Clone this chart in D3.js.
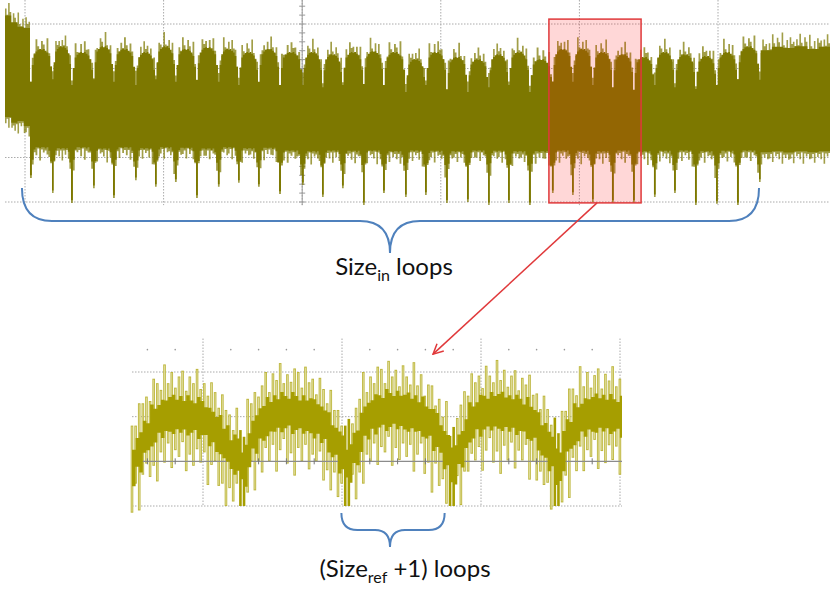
<!DOCTYPE html>
<html>
<head>
<meta charset="utf-8">
<script src="https://cdn.jsdelivr.net/npm/d3@7"></script>
<style>
  body { margin: 0; background: #fff; }
  svg { display: block; }
</style>
</head>
<body>
<svg id="chart"></svg>
<script>
// ---------- long capture (top) : time in ms, amplitude in divisions ----------
const topGridTimes = [0, 10, 20, 30, 40, 50];
const topGridLevels = [0, 1, 2, 3, 4];
const topDipTimes = [0.36, 1.95, 3.32, 4.91, 6.35, 7.94, 9.38, 10.82, 12.34, 13.92, 15.37, 16.81,
  18.33, 19.99, 21.43, 22.87, 24.39, 25.83, 27.42, 28.86, 30.38, 31.89, 33.41, 34.85,
  36.36, 38.02, 39.47, 40.91, 42.35, 43.87, 45.38, 46.83, 48.34, 49.86, 51.37, 52.96];
const topDipDepth = [0.54, 0.20, -0.02, 0.31, 0.09, 0.49, 0.34, 0.45, 0.09, 0.34, 0.43, 0.34,
  0.18, 0.38, 0.11, 0.31, -0.07, 0.20, 0.11, 0.16, -0.02, 0.00, -0.07, -0.02,
  -0.07, 0.20, 0.16, 0.00, -0.02, -0.02, 0.11, 0.20, -0.07, -0.04, -0.07, 0.45];
const topLoopHigh = [3.42, 3.48, 3.35, 3.48, 3.42, 3.35, 3.48, 3.42, 3.46, 3.42, 3.35, 3.42,
  3.35, 3.35, 3.30, 3.35, 3.37, 3.35, 3.19, 3.35, 3.24, 3.19, 3.30, 3.35,
  3.19, 3.42, 3.42, 3.35, 3.30, 3.24, 3.35, 3.30, 3.26, 3.35, 3.48];
const topLoopLow = [1.17, 1.15, 1.17, 1.14, 1.17, 1.15, 1.17, 1.16, 1.14, 1.17, 1.15, 1.16,
  1.10, 1.08, 1.10, 1.09, 1.10, 1.08, 1.10, 1.09, 1.08, 1.10, 1.09, 1.08,
  1.08, 1.10, 1.09, 1.08, 1.10, 1.08, 1.09, 1.10, 1.08, 1.09, 1.10];
const topLeadHigh = [4.25, 4.10, 4.00, 3.97];
const topLeadLow = [1.85, 1.72, 1.76, 1.65];
const topTailHigh = [3.47, 3.55, 3.52, 3.56, 3.50, 3.55];
const topTailLow = [1.06, 1.08, 1.05, 1.08, 1.06, 1.08];
const topShapeHigh = [-0.66, -0.28, -0.04, 0.02, 0.06, 0.08, 0.06, 0.08, 0.04, 0.00, -0.08, -0.32];
const topShapeLow = [0, -0.28, -0.05, 0.00, 0.00, -0.02, 0.00, 0.00, -0.03, 0.00, -0.08, -0.32];
const topSpikeHigh = [0.10, -0.04, 0.22, 0.02, -0.08, 0.14, 0.04, -0.10, 0.26, 0.00, -0.05, 0.12, -0.12, 0.18, 0.03, 0.08, -0.06];
const topSpikeLow = [-0.08, 0.02, -0.18, 0.04, -0.05, 0.00, -0.12, 0.03, -0.22, 0.01, -0.06, 0.02, -0.10];
const focusWindow = [37.8, 44.45];
const focusLevels = [-0.02, 4.11];

// ---------- zoomed capture (bottom) : time and amplitude in divisions ----------
const zoomGridTimes = [1, 2, 3, 4];
const zoomGridLevels = [-1, 1, 2];
const zoomDipTimes = [0.46, 1.25, 2.01, 2.76, 3.51];
const zoomLoopPeak = [1.05, 1.10, 1.15, 1.12, 1.08];
const zoomShape = [-1.20, -0.85, -0.50, -0.25, -0.10, -0.03, 0.00, 0.00, -0.02, -0.05, -0.08, -0.15, -0.28, -0.45, -0.65, -0.90];
const zoomSpikeUp = [0.95, 0.60, 1.10, 0.75, 0.90, 0.55, 1.05, 0.80, 0.65, 1.15, 0.70, 0.95, 0.60, 0.85, 1.00, 0.55, 0.90, 0.75, 1.10, 0.65, 0.85, 0.70, 1.00];
const zoomSpikeDown = [1.00, 0.70, 1.30, 0.85, 0.60, 1.15, 0.90, 1.40, 0.75, 1.05, 0.65, 1.20, 0.80, 0.95, 0.60, 1.25, 0.85, 1.10, 0.70];
const zoomCoreJitter = [0.05, -0.04, 0.09, 0.00, -0.06, 0.11, 0.02, -0.05, 0.07, -0.02, 0.03, 0.08, -0.03];

const W = 830, H = 589;
const olive = "#7d7800", bright = "#a69e00", paleEdge = "#bdb63c", paleFill = "#dedb95";
const braceBlue = "#4f81bd", red = "#e0393b";

const svg = d3.select("#chart").attr("width", W).attr("height", H);

// ====== top chart ======
const xTop = d3.scaleLinear().domain([0, 50]).range([25, 718]);
const yTop = d3.scaleLinear().domain([0, 4]).range([202, 24]);
const tMin = xTop.invert(5), tMax = xTop.invert(830);

const gTop = svg.append("g");
gTop.selectAll("line.hg").data(topGridLevels).join("line").attr("class", "hg")
  .attr("x1", xTop(tMin)).attr("x2", xTop(tMax))
  .attr("y1", d => yTop(d)).attr("y2", d => yTop(d))
  .attr("stroke", "#aaa").attr("stroke-dasharray", "1.5,1.5");
gTop.selectAll("line.vg").data(topGridTimes).join("line").attr("class", "vg")
  .attr("x1", d => xTop(d)).attr("x2", d => xTop(d))
  .attr("y1", 0).attr("y2", yTop(-0.07))
  .attr("stroke", "#aaa").attr("stroke-dasharray", "1.5,1.5");
// centre axis with minor ticks
gTop.append("line").attr("x1", xTop(20)).attr("x2", xTop(20))
  .attr("y1", 0).attr("y2", yTop(-0.07)).attr("stroke", "#999");
gTop.selectAll("line.tk").data(d3.range(0, 4.6, 0.2)).join("line").attr("class", "tk")
  .attr("x1", xTop(20) - 3).attr("x2", xTop(20) + 3)
  .attr("y1", d => yTop(d)).attr("y2", d => yTop(d))
  .attr("stroke", "#999");

// build top samples
const topSamples = [];
let k = 0;
function pushTop(t, hiCore, loCore, isDip) {
  topSamples.push({
    t, hiCore, loCore,
    hi: hiCore + topSpikeHigh[k % topSpikeHigh.length],
    lo: isDip ? loCore : loCore + topSpikeLow[k % topSpikeLow.length]
  });
  k++;
}
const leadSteps = 16;
for (let j = 0; j < leadSteps; j++) {
  const t = tMin + (j / leadSteps) * (topDipTimes[0] - tMin);
  const q = Math.floor(j / leadSteps * topLeadHigh.length);
  pushTop(t, topLeadHigh[q], topLeadLow[q], false);
}
for (let i = 0; i < topLoopHigh.length; i++) {
  const t0 = topDipTimes[i], t1 = topDipTimes[i + 1];
  for (let j = 0; j < topShapeHigh.length; j++) {
    const t = t0 + (j / topShapeHigh.length) * (t1 - t0);
    const lo = j === 0 ? topDipDepth[i] : topLoopLow[i] + topShapeLow[j];
    pushTop(t, topLoopHigh[i] + topShapeHigh[j], lo, j === 0);
  }
}
const tLast = topDipTimes[topDipTimes.length - 1];
const tailSteps = 44;
for (let j = 0; j < tailSteps; j++) {
  const t = tLast + (j / tailSteps) * (tMax - tLast);
  const q = Math.floor(j / tailSteps * topTailHigh.length);
  if (j === 0) pushTop(t, topTailHigh[0] + topShapeHigh[0], topDipDepth[topDipDepth.length - 1], true);
  else pushTop(t, topTailHigh[q], topTailLow[q], false);
}
topSamples.push(Object.assign({}, topSamples[topSamples.length - 1], { t: tMax }));

const topOuter = d3.area().curve(d3.curveStepAfter)
  .x(d => xTop(d.t)).y0(d => yTop(d.lo)).y1(d => yTop(d.hi));
const topCore = d3.area().curve(d3.curveStepAfter)
  .x(d => xTop(d.t)).y0(d => yTop(d.loCore + 0.06)).y1(d => yTop(d.hiCore - 0.06));
gTop.append("path").datum(topSamples).attr("d", topOuter).attr("fill", olive).attr("opacity", 0.72);
gTop.append("path").datum(topSamples).attr("d", topCore).attr("fill", olive);

// focus window
gTop.append("rect")
  .attr("x", xTop(focusWindow[0])).attr("width", xTop(focusWindow[1]) - xTop(focusWindow[0]))
  .attr("y", yTop(focusLevels[1])).attr("height", yTop(focusLevels[0]) - yTop(focusLevels[1]))
  .attr("fill", "rgba(255,20,20,0.17)").attr("stroke", red).attr("stroke-width", 1.5);

// ====== bottom chart ======
const xZoom = d3.scaleLinear().domain([1, 4]).range([203, 620]);
const yZoom = d3.scaleLinear().domain([-1, 2]).range([506, 372]);
const zMin = xZoom.invert(132), zMax = xZoom.invert(622);

const gZoom = svg.append("g");
gZoom.selectAll("line.hg").data(zoomGridLevels).join("line").attr("class", "hg")
  .attr("x1", xZoom(zMin)).attr("x2", xZoom(zMax))
  .attr("y1", d => yZoom(d)).attr("y2", d => yZoom(d))
  .attr("stroke", "#aaa").attr("stroke-dasharray", "1.5,1.5");
gZoom.selectAll("line.vg").data(zoomGridTimes).join("line").attr("class", "vg")
  .attr("x1", d => xZoom(d)).attr("x2", d => xZoom(d))
  .attr("y1", yZoom(2.75)).attr("y2", yZoom(-1))
  .attr("stroke", "#aaa").attr("stroke-dasharray", "1.5,1.5");
const minorTimes = d3.range(0.6, 4.01, 0.2).filter(d => Math.abs(d - Math.round(d)) > 0.05);
gZoom.selectAll("circle.md").data(minorTimes).join("circle").attr("class", "md")
  .attr("cx", d => xZoom(d)).attr("cy", yZoom(2.5)).attr("r", 0.8).attr("fill", "#999");

const zoomPeriod = (zoomDipTimes[zoomDipTimes.length - 1] - zoomDipTimes[0]) / (zoomDipTimes.length - 1);
const zoomSamples = d3.range(zMin, zMax, 0.026).map((t, n) => {
  const i = Math.max(0, d3.bisectRight(zoomDipTimes, t) - 1);
  const phase = Math.max(0, (t - zoomDipTimes[i]) / zoomPeriod);
  const bin = Math.min(zoomShape.length - 1, Math.floor(phase * zoomShape.length));
  const c = zoomLoopPeak[i] + zoomShape[bin];
  const nearDip = bin === 0 && i > 0;
  return {
    t, c, nearDip,
    up: c + zoomSpikeUp[n % zoomSpikeUp.length],
    dn: nearDip ? -1 : c - zoomSpikeDown[n % zoomSpikeDown.length],
    half: 0.36 + zoomCoreJitter[n % zoomCoreJitter.length]
  };
});

// spikes: outlined light bars
gZoom.selectAll("line.so").data(zoomSamples).join("line").attr("class", "so")
  .attr("x1", d => xZoom(d.t)).attr("x2", d => xZoom(d.t))
  .attr("y1", d => yZoom(d.up)).attr("y2", d => yZoom(d.dn))
  .attr("stroke", d => d.nearDip ? bright : paleEdge).attr("stroke-width", 2.6);
gZoom.selectAll("line.si").data(zoomSamples.filter(d => !d.nearDip)).join("line").attr("class", "si")
  .attr("x1", d => xZoom(d.t)).attr("x2", d => xZoom(d.t))
  .attr("y1", d => yZoom(d.up) + 1).attr("y2", d => yZoom(d.dn) - 1)
  .attr("stroke", paleFill).attr("stroke-width", 1);

// centre axis with ticks
gZoom.append("line").attr("x1", xZoom(zMin)).attr("x2", xZoom(zMax))
  .attr("y1", yZoom(0)).attr("y2", yZoom(0)).attr("stroke", "#8c8c8c").attr("stroke-width", 1.2);
gZoom.selectAll("line.at").data(minorTimes).join("line").attr("class", "at")
  .attr("x1", d => xZoom(d)).attr("x2", d => xZoom(d))
  .attr("y1", yZoom(0) - 3).attr("y2", yZoom(0) + 3).attr("stroke", "#777");

const zoomCore = d3.area().curve(d3.curveStepAfter)
  .x(d => xZoom(d.t)).y0(d => yZoom(d.c - d.half)).y1(d => yZoom(d.c + d.half));
gZoom.append("path").datum(zoomSamples.concat([Object.assign({}, zoomSamples[zoomSamples.length - 1], { t: zMax })]))
  .attr("d", zoomCore).attr("fill", bright);

// ====== annotations ======
const ann = svg.append("g").attr("fill", "none");
// top brace: spans the loops
const bL = xTop(-0.22), bR = xTop(tLast), bY = 221, bTip = 253, bMid = 390, bEnd = 188;
ann.append("path")
  .attr("d", `M${bL},${bEnd} Q${bL},${bY} ${bL + 30},${bY} L${bMid - 30},${bY} Q${bMid},${bY} ${bMid},${bTip}`
    + ` Q${bMid},${bY} ${bMid + 30},${bY} L${bR - 30},${bY} Q${bR},${bY} ${bR},${bEnd}`)
  .attr("stroke", braceBlue).attr("stroke-width", 2);
// bottom brace: one loop of the zoom
const sL = xZoom(zoomDipTimes[2]) - 2, sR = xZoom(zoomDipTimes[3]) - 3, sY = 530, sTip = 547, sMid = 390, sEnd = 513;
ann.append("path")
  .attr("d", `M${sL},${sEnd} Q${sL},${sY} ${sL + 16},${sY} L${sMid - 15},${sY} Q${sMid},${sY} ${sMid},${sTip}`
    + ` Q${sMid},${sY} ${sMid + 15},${sY} L${sR - 16},${sY} Q${sR},${sY} ${sR},${sEnd}`)
  .attr("stroke", braceBlue).attr("stroke-width", 2);

// arrow from focus window to zoom
svg.append("defs").append("marker").attr("id", "ah")
  .attr("viewBox", "0 0 12 12").attr("refX", 11).attr("refY", 6)
  .attr("markerWidth", 12).attr("markerHeight", 12).attr("markerUnits", "userSpaceOnUse")
  .attr("orient", "auto")
  .append("path").attr("d", "M1,1 L11,6 L1,11").attr("fill", "none").attr("stroke", red).attr("stroke-width", 1.5);
ann.append("line")
  .attr("x1", xTop(41.27)).attr("y1", yTop(focusLevels[0]))
  .attr("x2", xZoom(2.655)).attr("y2", yZoom(2.4))
  .attr("stroke", red).attr("stroke-width", 1.5).attr("marker-end", "url(#ah)");

// labels
const font = "Lato, 'Open Sans', sans-serif";
const t1 = svg.append("text").attr("x", 394).attr("y", 275).attr("text-anchor", "middle")
  .attr("font-family", font).attr("font-size", 24).attr("fill", "#111");
t1.append("tspan").text("Size");
t1.append("tspan").attr("font-size", 16).attr("dy", 6).text("in");
t1.append("tspan").attr("dy", -6).text(" loops");

const t2 = svg.append("text").attr("x", 405).attr("y", 577).attr("text-anchor", "middle")
  .attr("font-family", font).attr("font-size", 24).attr("fill", "#111");
t2.append("tspan").text("(Size");
t2.append("tspan").attr("font-size", 16).attr("dy", 6).text("ref");
t2.append("tspan").attr("dy", -6).text(" +1) loops");
</script>
</body>
</html>
